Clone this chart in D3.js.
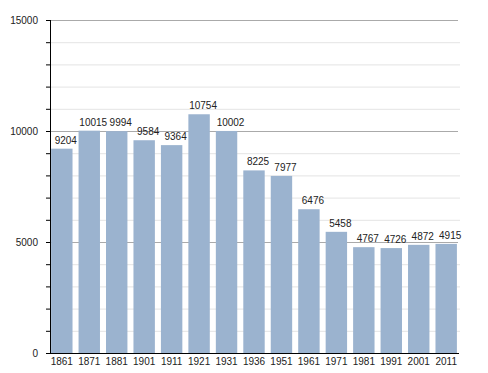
<!DOCTYPE html>
<html>
<head>
<meta charset="utf-8">
<script src="https://cdn.jsdelivr.net/npm/d3@7"></script>
<style>
  body { margin: 0; background: #fff; }
  text { font-family: "Liberation Sans", Arial, sans-serif; }
</style>
</head>
<body>
<div id="chart"></div>
<script>
const years = ["1861", "1871", "1881", "1901", "1911", "1921", "1931", "1936", "1951", "1961", "1971", "1981", "1991", "2001", "2011"]
const population = [9204, 10015, 9994, 9584, 9364, 10754, 10002, 8225, 7977, 6476, 5458, 4767, 4726, 4872, 4915]
const majorTicks = [0, 5000, 10000, 15000]

const width = 488, height = 373
const plotLeft = 50, plotRight = 458, plotTop = 20, plotBottom = 353

const svg = d3.select("#chart").append("svg")
  .attr("width", width)
  .attr("height", height)

const x = d3.scaleBand()
  .domain(years)
  .range([plotLeft, plotRight])
  .paddingInner(0.22)
  .paddingOuter(0.04)

const y = d3.scaleLinear()
  .domain([0, 15000])
  .range([plotBottom, plotTop])

// minor grid every 1000
svg.append("g")
  .selectAll("line")
  .data(d3.range(1000, 15000, 1000).filter(d => d % 5000 !== 0))
  .enter().append("line")
  .attr("x1", plotLeft).attr("x2", plotRight + 2)
  .attr("y1", d => y(d) + 0.5).attr("y2", d => y(d) + 0.5)
  .style("stroke", "#e4e4e4")

// major grid
svg.append("g")
  .selectAll("line")
  .data(majorTicks.filter(d => d > 0))
  .enter().append("line")
  .attr("x1", plotLeft).attr("x2", plotRight)
  .attr("y1", d => y(d) + 0.5).attr("y2", d => y(d) + 0.5)
  .style("stroke", "#aaa")

// bars
svg.append("g")
  .selectAll("rect")
  .data(population)
  .enter().append("rect")
  .attr("x", (d, i) => x(years[i]))
  .attr("y", d => y(d))
  .attr("width", x.bandwidth())
  .attr("height", d => plotBottom - y(d))
  .style("fill", "#9bb3cf")

// value labels
svg.append("g")
  .selectAll("text")
  .data(population)
  .enter().append("text")
  .attr("x", (d, i) => x(years[i]) + x.bandwidth() / 2 + 4)
  .attr("y", d => y(d) - 5)
  .attr("text-anchor", "middle")
  .attr("font-size", 10)
  .attr("fill", "#222")
  .text(d => d)

// y axis
const yAxis = d3.axisLeft(y)
  .tickValues(d3.range(0, 15001, 1000))
  .tickSize(4)
  .tickFormat(d => majorTicks.includes(d) ? d : "")

const ya = svg.append("g")
  .attr("transform", `translate(${plotLeft},0)`)
  .call(yAxis)
ya.select(".domain").attr("stroke", "#000").attr("d", `M0.5,${plotTop}V${plotBottom + 0.5}`)
ya.selectAll(".tick line").attr("stroke", "#000")
ya.selectAll(".tick text")
  .attr("x", -12)
  .attr("font-size", 10)
  .attr("font-family", "Liberation Sans, Arial, sans-serif")
  .attr("fill", "#222")

// x axis
const xAxis = d3.axisBottom(x).tickSize(0).tickPadding(5)
const xa = svg.append("g")
  .attr("transform", `translate(0,${plotBottom})`)
  .call(xAxis)
xa.select(".domain").attr("stroke", "#000").attr("d", `M${plotLeft},0.5H${plotRight + 1}`)
xa.selectAll(".tick text")
  .attr("font-size", 10)
  .attr("font-family", "Liberation Sans, Arial, sans-serif")
  .attr("fill", "#222")
</script>
</body>
</html>
